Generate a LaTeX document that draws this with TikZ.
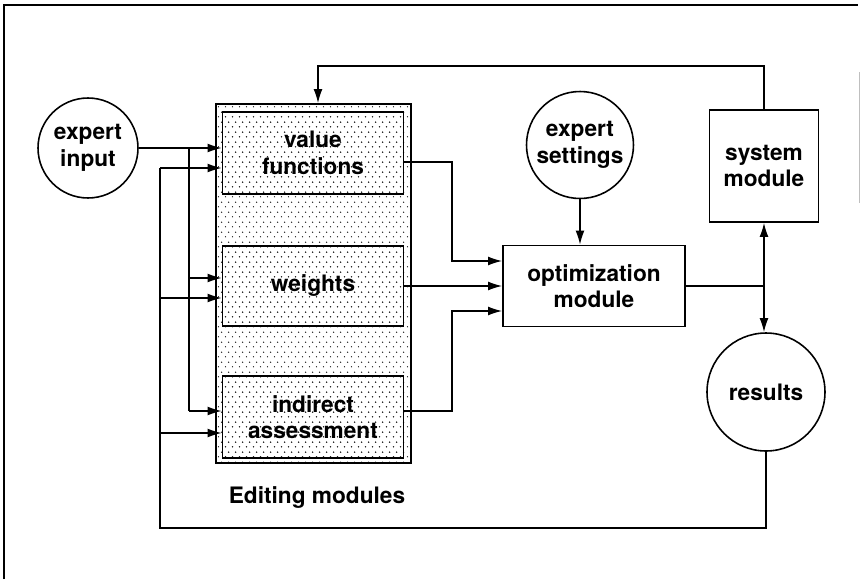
\documentclass[tikz,border=0pt]{standalone}
\usepackage{fontspec}
\setmainfont{TeX Gyre Heros}
\usetikzlibrary{arrows.meta,patterns.meta}

\tikzdeclarepattern{
  name=editdots, type=uncolored,
  bottom left={(0pt,0pt)}, top right={(4pt,5.7pt)},
  tile size={(4pt,5.7pt)},
  code={\fill (1pt,1.4pt) circle (0.45pt); \fill (3pt,4.25pt) circle (0.45pt);}
}

\tikzset{
  ring/.style={draw, circle, line width=0.9pt, align=center, inner sep=0pt},
  modbox/.style={draw, rectangle, line width=0.9pt, align=center},
  dotbox/.style={modbox, pattern=editdots, pattern color=black!85},
  >={Latex[length=8pt,width=5pt]},
}

\begin{document}
\begin{tikzpicture}[x=0.02cm, y=-0.02cm, line width=0.8pt,
    font=\fontsize{12.9}{15}\selectfont\bfseries]
	\useasboundingbox (0,0) rectangle (860,579);
	\draw[line width=1.4pt] (4,579) -- (4,5) -- (858,5);
	\draw[black!25, line width=0.5pt] (859,72) -- (859,203);
	%
	\node[dotbox, minimum width=3.9cm, minimum height=7.18cm] (edit) at (313.5,283.5) {};
	\node[dotbox, minimum width=3.62cm, minimum height=1.64cm] (val) at (313,153) {value\\functions};
	\node[dotbox, minimum width=3.62cm, minimum height=1.6cm] (wgt) at (313,286) {weights};
	\node[dotbox, minimum width=3.62cm, minimum height=1.64cm] (ind) at (313,417) {indirect\\assessment};
	\node (edlabel) at (317,498) {Editing modules};
	%
	\node[ring, minimum size=2cm] (input) at (88,148) {expert\\input};
	\node[ring, minimum size=2.14cm] (set) at (580,145) {expert\\settings};
	\node[modbox, minimum width=3.64cm, minimum height=1.62cm] (opt) at (594,286) {optimization\\module};
	\node[modbox, minimum width=2.18cm, minimum height=2.24cm] (sys) at (764,166) {system\\module};
	\node[ring, minimum size=2.36cm] (res) at (766,392) {results};
	%
	\coordinate (in1) at (189,148);
	\coordinate (in2) at (189,278);
	\coordinate (in3) at (189,411);
	\coordinate (fb1) at (160,168);
	\coordinate (fb2) at (160,298);
	\coordinate (fb3) at (160,433);
	\coordinate (fb4) at (160,528);
	\coordinate (fbtop) at (318,66);
	\coordinate (m1) at (452,261);
	\coordinate (m3) at (452,311);
	\coordinate (j) at (764,286);
	%
	\draw[->] (input.east) -- (input.east -| val.west);
	\draw (in1) -- (in3);
	\draw[->] (in2) -- (in2 -| wgt.west);
	\draw[->] (in3) -- (in3 -| ind.west);
	%
	\draw (res.south) |- (fb4) -- (fb1);
	\draw[->] (fb1) -- (fb1 -| val.west);
	\draw[->] (fb2) -- (fb2 -| wgt.west);
	\draw[->] (fb3) -- (fb3 -| ind.west);
	%
	\draw[->] ([yshift=-0.18cm]val.east) -| (m1) -- (m1 -| opt.west);
	\draw[->] (wgt.east) -- (opt.west);
	\draw[->] ([yshift=0.12cm]ind.east) -| (m3) -- (m3 -| opt.west);
	\draw[->] (set.south) -- (set.south |- opt.north);
	%
	\draw (opt.east) -- (j);
	\draw[->] (j) -- (sys.south);
	\draw[->] (j) -- (j |- res.north);
	\draw[->] (sys.north) |- (fbtop) -- (fbtop |- edit.north);
\end{tikzpicture}
\end{document}
